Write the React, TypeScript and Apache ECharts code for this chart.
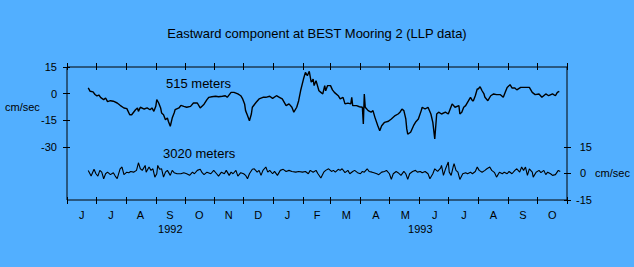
import React, { useEffect, useRef } from "react";
import * as echarts from "echarts";

const FONT = '"Liberation Sans", Arial, sans-serif';
const BG = "#52AFFF";
const DAY = 86400000;
const START = Date.UTC(1992, 5, 1);
const END = Date.UTC(1993, 10, 1);

const titleText = "Eastward component at BEST Mooring 2 (LLP data)";
const monthLabels = ["J", "J", "A", "S", "O", "N", "D", "J", "F", "M", "A", "M", "J", "J", "A", "S", "O"];
const yearLabels = ["1992", "1993"];
const leftTicks = [15, 0, -15, -30];
const rightTicks = [15, 0, -15];

// [days since 1 Jun 1992, cm/sec]
const obs515: [number, number][] = [
  [22, 3.2], [24, 1.3], [27, 1.0], [29, -0.5], [31, -1.3], [33, -0.8], [35, -2.3], [38, -3.4], [40, -2.5], [42, -4.5],
  [45, -4.0], [48, -4.3], [52, -5.3], [55, -6.6], [59, -8.1], [62, -8.5], [65, -11.9], [67, -11.9], [71, -9.1], [73, -8.1],
  [74, -10.0], [76, -7.7], [80, -8.7], [83, -8.1], [86, -9.1], [88, -8.1], [90, -10.0], [92, -7.2], [93, -3.4], [95, -5.3],
  [97, -8.1], [98, -10.9], [100, -11.9], [102, -14.7], [104, -13.8], [105, -15.6], [107, -18.4], [109, -13.8], [111, -10.9], [112, -9.1],
  [116, -8.1], [118, -6.6], [121, -7.2], [124, -7.7], [128, -7.2], [131, -5.3], [135, -5.3], [138, -8.1], [142, -6.0], [145, -3.4],
  [147, -2.1], [150, -1.8], [154, -1.5], [157, -1.8], [161, -1.5], [164, -1.2], [166, -2.1], [170, 0.7], [173, 0.7], [177, -0.2],
  [180, -1.2], [182, -3.0], [184, -5.8], [185, -9.6], [187, -12.4], [189, -15.3], [191, -11.5], [192, -7.7], [196, -4.9], [199, -3.0],
  [203, -2.1], [206, -2.1], [210, -1.5], [213, -2.7], [217, -1.2], [220, -2.1], [223, -3.0], [227, -6.8], [230, -5.8], [233, -7.7],
  [235, -10.5], [238, -7.7], [240, -4.0], [242, 1.6], [245, 8.2], [247, 12.0], [249, 10.1], [251, 12.6], [253, 6.4], [255, 8.2],
  [256, 4.5], [258, 7.3], [261, 1.6], [263, 0.7], [265, -0.2], [267, 4.5], [268, 1.6], [270, 4.5], [273, 4.5], [275, 2.1],
  [277, 0.7], [281, -1.2], [283, -3.0], [286, -2.1], [288, -5.8], [291, -5.4], [294, -5.8], [295, -2.1], [296, -6.8], [300, -6.8],
  [303, -7.4], [306, -7.7], [307, -17.1], [308, -0.2], [309, -7.7], [312, -9.6], [315, -10.5], [317, -9.6], [319, -13.4], [322, -18.1],
  [324, -20.9], [326, -18.1], [329, -16.2], [333, -15.6], [336, -14.3], [340, -12.4], [343, -11.5], [345, -10.5], [347, -8.7], [349, -9.6],
  [351, -14.3], [352, -19.9], [353, -22.8], [356, -21.8], [359, -18.1], [361, -16.2], [364, -14.3], [367, -9.6], [368, -7.7], [371, -8.7],
  [374, -7.7], [377, -11.5], [379, -16.2], [381, -25.6], [383, -11.5], [385, -10.5], [388, -11.5], [392, -10.5], [395, -11.5], [399, -5.8],
  [402, -7.7], [406, -6.8], [407, -11.5], [409, -10.5], [411, -7.7], [413, -6.8], [416, -4.0], [418, -2.1], [420, -4.0], [421, -4.0],
  [423, -1.2], [425, 2.6], [426, 2.6], [428, 3.9], [430, 1.6], [432, -0.2], [433, -2.1], [436, -4.0], [439, -1.2], [442, -0.2],
  [445, -0.6], [449, -0.6], [452, -2.1], [454, 0.7], [456, 3.5], [459, 5.0], [461, 3.2], [464, 3.2], [466, 2.1], [470, 3.5],
  [475, 3.5], [479, 3.5], [482, 0.7], [485, -0.6], [489, -0.2], [492, -2.1], [496, -0.2], [499, -1.2], [503, -0.2], [506, -1.2],
  [508, 0.7], [510, 1.3],
];

const obs3020: [number, number][] = [
  [22, 1.7], [25, -1.5], [28, 2.3], [30, -0.2], [32, -1.5], [34, 1.7], [36, 0.7], [38, -3.0], [40, -0.2], [42, 0.7],
  [45, -0.7], [48, 0.4], [50, -1.5], [52, -3.0], [55, 2.6], [57, 3.6], [59, -0.7], [62, 0.7], [64, 0.4], [66, 1.1],
  [69, 0.7], [72, 1.7], [74, 6.0], [76, 2.6], [78, 1.7], [81, 4.5], [82, 0.7], [85, 3.6], [87, 1.7], [89, 2.6],
  [91, -2.1], [93, -0.2], [94, 4.5], [96, 2.3], [98, 2.6], [100, -2.1], [102, 0.7], [104, 1.7], [107, -1.1], [109, 1.7],
  [111, 0.4], [114, -0.2], [118, -0.2], [121, 0.4], [124, -0.2], [127, -1.1], [130, 0.7], [132, -0.2], [135, 1.7], [138, 2.3],
  [140, 0.4], [142, -0.7], [145, 0.7], [149, -0.2], [152, 1.7], [155, -0.2], [157, -1.5], [160, 0.7], [163, -0.2], [165, 1.7],
  [168, -1.1], [170, 0.7], [172, -0.2], [175, 1.7], [177, -1.5], [180, 0.4], [183, -0.2], [185, -1.1], [187, -3.0], [189, -0.2],
  [192, 2.3], [194, 2.6], [197, 0.7], [199, 1.7], [201, -1.1], [203, 1.7], [206, 3.6], [208, 0.7], [210, 1.7], [213, -0.2],
  [215, 1.1], [218, -1.1], [221, 1.7], [224, 2.3], [227, 1.1], [230, 1.7], [233, 1.1], [237, 0.7], [240, 1.1], [244, 0.7],
  [247, 1.1], [250, -0.2], [252, 1.7], [255, 0.7], [258, 1.7], [260, -0.2], [263, -2.6], [266, 0.7], [268, 1.7], [271, 2.6],
  [274, 1.1], [276, 1.7], [278, 0.7], [281, 2.3], [283, 1.7], [285, 2.6], [288, 0.4], [291, 1.7], [293, -0.2], [296, 1.1],
  [298, 1.7], [301, 0.4], [304, -0.2], [306, 1.1], [308, 0.7], [311, 2.6], [313, 1.1], [316, 0.7], [318, 0.4], [321, -0.2],
  [323, -0.7], [326, 0.7], [329, 1.1], [331, 1.7], [334, -0.2], [336, -3.4], [338, -0.2], [341, 1.1], [343, 0.4], [346, -1.1],
  [349, 1.1], [351, -0.2], [353, -3.4], [355, -0.2], [358, 1.1], [361, 1.7], [363, 0.7], [366, 1.1], [368, 0.4], [371, 1.1],
  [374, -0.2], [376, -3.0], [379, -0.2], [381, 2.6], [384, 1.1], [387, 3.0], [388, 4.5], [390, -1.1], [392, 2.3], [395, 6.4],
  [396, 0.7], [398, -1.1], [400, 3.6], [401, 5.5], [403, 1.7], [405, 0.7], [407, -3.4], [410, -0.2], [413, 0.4], [415, -0.2],
  [418, 0.7], [420, -0.2], [423, 1.1], [425, 3.6], [427, 1.7], [430, 0.7], [433, 1.7], [435, 2.6], [438, 3.6], [440, 1.7],
  [443, 0.4], [445, -2.1], [448, 0.7], [451, -0.2], [453, 0.7], [456, -0.2], [458, 1.1], [461, -0.2], [464, 1.7], [466, 2.6],
  [469, 0.7], [471, 3.6], [473, 1.7], [475, 3.6], [477, -1.1], [479, 2.6], [482, 0.7], [483, -2.1], [486, 0.7], [489, 1.7],
  [491, 0.4], [494, 1.7], [496, -0.7], [498, 0.7], [501, -0.2], [503, -1.1], [506, -0.7], [509, 1.7], [511, 1.1],
];

export default function App() {
  const ref = useRef<HTMLDivElement>(null);

  useEffect(() => {
    if (!ref.current) return;
    const chart = echarts.init(ref.current, null, { renderer: "svg", width: 634, height: 267 });

    const monthStarts: number[] = [];
    for (let i = 0; i <= monthLabels.length; i++) monthStarts.push(Date.UTC(1992, 5 + i, 1));
    const jan93 = Date.UTC(1993, 0, 1);
    const yearMid = [(START + jan93) / 2, (jan93 + END) / 2];

    const toSeries = (obs: [number, number][]) => obs.map(([d, v]) => [START + d * DAY, v]);

    const txt = { color: "#000", fontFamily: FONT, fontSize: 11 };
    const tickStyle = { color: "#000", width: 1 };
    const noLine = { show: false, onZero: false };

    chart.setOption({
      animation: false,
      backgroundColor: BG,
      title: {
        text: titleText,
        left: "center",
        top: 22,
        textStyle: { color: "#000", fontFamily: FONT, fontSize: 13, fontWeight: "normal" },
      },
      grid: {
        left: 67, right: 67, top: 67, bottom: 67,
        show: true, borderColor: "#000", borderWidth: 1, backgroundColor: "transparent",
      },
      xAxis: [
        {
          type: "value", position: "bottom", min: START, max: END, offset: -3,
          axisLine: noLine,
          axisTick: { show: true, inside: false, length: 7, customValues: monthStarts, lineStyle: tickStyle },
          axisLabel: {
            ...txt, margin: 26, customValues: yearMid, hideOverlap: false,
            formatter: (v: number) => {
              let best = 0;
              yearMid.forEach((m, i) => { if (Math.abs(m - v) < Math.abs(yearMid[best] - v)) best = i; });
              return yearLabels[best];
            },
          },
          splitLine: { show: false },
        },
        {
          type: "value", position: "top", min: START, max: END, offset: -3,
          axisLine: noLine,
          axisTick: { show: true, inside: false, length: 7, customValues: monthStarts, lineStyle: tickStyle },
          axisLabel: { show: false },
          splitLine: { show: false },
        },
        {
          type: "category", position: "bottom", data: monthLabels, boundaryGap: true,
          axisLine: noLine, axisTick: { show: false },
          axisLabel: { ...txt, interval: 0, margin: 9 },
          splitLine: { show: false },
        },
      ],
      yAxis: [
        {
          type: "value", position: "left", min: -60, max: 15, offset: -3,
          axisLine: noLine,
          axisTick: { show: true, inside: false, length: 7, customValues: leftTicks, lineStyle: tickStyle },
          axisLabel: { ...txt, margin: 13, customValues: leftTicks },
          splitLine: { show: false },
        },
        {
          type: "value", position: "right", min: -15, max: 60, offset: -3,
          axisLine: noLine,
          axisTick: { show: true, inside: false, length: 7, customValues: rightTicks, lineStyle: tickStyle },
          axisLabel: {
            ...txt, margin: 10, align: "left", customValues: rightTicks,
            formatter: (v: number) => (v === 0 ? "{n|0}{u| cm/sec}" : `{n|${v}}`),
            rich: {
              n: { width: 18, align: "right", color: "#000", fontFamily: FONT, fontSize: 11 },
              u: { color: "#000", fontFamily: FONT, fontSize: 11 },
            },
          },
          splitLine: { show: false },
        },
      ],
      graphic: [
        { type: "text", x: 5, y: 107, style: { text: "cm/sec", fill: "#000", font: `11px ${FONT}`, textVerticalAlign: "middle" } },
        { type: "text", x: 166, y: 83.5, style: { text: "515 meters", fill: "#000", font: `13px ${FONT}`, textVerticalAlign: "middle" } },
        { type: "text", x: 163, y: 153.5, style: { text: "3020 meters", fill: "#000", font: `13px ${FONT}`, textVerticalAlign: "middle" } },
      ],
      series: [
        {
          name: "515 meters", type: "line", xAxisIndex: 0, yAxisIndex: 0,
          data: toSeries(obs515), showSymbol: false, symbol: "none", silent: true,
          lineStyle: { color: "#000", width: 1.4 },
        },
        {
          name: "3020 meters", type: "line", xAxisIndex: 0, yAxisIndex: 1,
          data: toSeries(obs3020), showSymbol: false, symbol: "none", silent: true,
          lineStyle: { color: "#000", width: 1.1 },
        },
      ],
    });

    return () => chart.dispose();
  }, []);

  return (
    <div
      ref={ref}
      style={{ position: "fixed", left: 0, top: 0, width: 634, height: 267, background: BG }}
    />
  );
}
